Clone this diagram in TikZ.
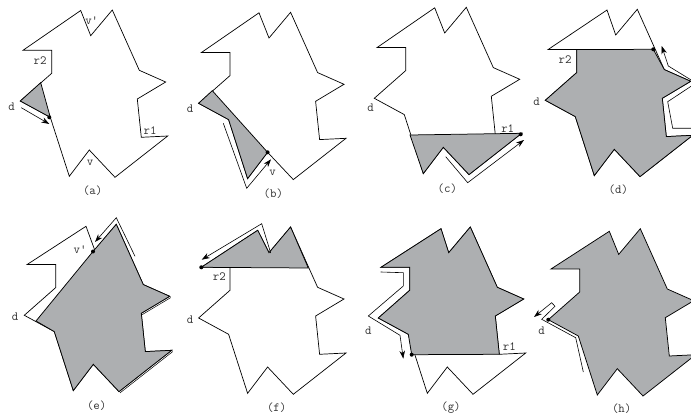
\documentclass[tikz,border=0pt]{standalone}
\usetikzlibrary{arrows.meta}
\definecolor{polygray}{HTML}{ADAFB1}
\definecolor{labgray}{HTML}{303030}
\tikzset{
  outline/.style={draw=black,line width=0.7pt,line join=miter},
  shaded/.style={fill=polygray,draw=black,line width=0.75pt,line join=miter},
  walk/.style={draw=black,line width=0.6pt,line join=miter},
  walkarrow/.style={walk,-{Stealth[length=8pt,width=5.5pt]}},
  lab/.style={font=\ttfamily\fontsize{12.5}{12.5}\selectfont,text=labgray,inner sep=0pt},
  dotmark/.style={fill=black}
}
\newcommand{\setpts}[2]{%
  \coordinate (p1) at (80.7+#1,10.5+#2);
  \coordinate (p2) at (90.7+#1,35.7+#2);
  \coordinate (p3) at (112.3+#1,10+#2);
  \coordinate (p4) at (139.3+#1,70.3+#2);
  \coordinate (p5) at (165.7+#1,82+#2);
  \coordinate (p6) at (137.3+#1,99+#2);
  \coordinate (p7) at (141.3+#1,137.3+#2);
  \coordinate (p8) at (167.7+#1,136+#2);
  \coordinate (p9) at (115+#1,177.3+#2);
  \coordinate (p10) at (89.3+#1,150+#2);
  \coordinate (p11) at (69.3+#1,176.3+#2);
  \coordinate (p12) at (50.3+#1,117.3+#2);
  \coordinate (p13) at (20.3+#1,101+#2);
  \coordinate (p14) at (51.7+#1,73.3+#2);
  \coordinate (p15) at (51.7+#1,50.3+#2);
  \coordinate (p16) at (23+#1,50.3+#2);
}
\newcommand{\fullpoly}{(p1)--(p2)--(p3)--(p4)--(p5)--(p6)--(p7)--(p8)--(p9)--(p10)--(p11)--(p12)--(p13)--(p14)--(p15)--(p16)--cycle}
\begin{document}
\begin{tikzpicture}[x=1pt,y=-1pt]
\useasboundingbox (0,0) rectangle (691,414);
\clip (0,0) rectangle (691,414);

% (a)
\setpts{0}{0}
\coordinate (ca) at (40.7,82.7);
\path[outline] \fullpoly;
\path[shaded] (p13)--(ca)--(p12)--cycle;
\fill[dotmark] (p12) ++(-1,0) circle (2pt);
\coordinate (a1) at (21.3,107.7);
\coordinate (a2) at (49.3,124);
\draw[walkarrow] (a1)--(a2);
\node[lab] (av) at (90,163.3) {v};
\node[lab] (avp) at (91.7,20.7) {v'};
\node[lab] (ar2) at (40,60.7) {r2};
\node[lab] (ar1) at (150,130.7) {r1};
\node[lab] (ad) at (11.7,106.7) {d};
\node[lab] (acap) at (92.7,190.7) {(a)};

% (b)
\setpts{178.3}{2.3}
\coordinate (cb) at (212.3,90.7);
\path[outline] \fullpoly;
\path[shaded] (p13)--(cb)--(p10)--(p11)--(p12)--cycle;
\fill[dotmark] (p10) circle (2pt);
\coordinate (b1) at (223.3,123.3);
\coordinate (b2) at (246.7,188.3);
\coordinate (b3) at (271,159.3);
\draw[walkarrow] (b1)--(b2)--(b3);
\node[lab] (bv) at (272.7,173.3) {v};
\node[lab] (bd) at (190,109) {d};
\node[lab] (bcap) at (273.3,194) {(b)};

% (c)
\setpts{354}{-2.7}
\coordinate (cc) at (410,135);
\path[outline] \fullpoly;
\path[shaded] (cc)--(p8)--(p9)--(p10)--(p11)--cycle;
\fill[dotmark] (p8) ++(-1,1) circle (2pt);
\coordinate (c1) at (445.7,156.7);
\coordinate (c2) at (467.7,182.7);
\coordinate (c3) at (524,140);
\draw[walkarrow] (c1)--(c2)--(c3);
\node[lab] (cr1) at (507.7,128.3) {r1};
\node[lab] (cd) at (370.7,107.3) {d};
\node[lab] (ccap) at (447.3,188.3) {(c)};

% (d)
\setpts{525}{-0.7}
\coordinate (p1) at (607,10);
\coordinate (cd1) at (653.3,49.3);
\path[outline] \fullpoly;
\path[shaded] (p15)--(cd1)--(p4)--(p5)--(p6)--(p7)--(p8)--(p9)--(p10)--(p11)--(p12)--(p13)--(p14)--cycle;
\draw[outline] (p16)--(p15);
\fill[dotmark] (cd1) circle (2pt);
\coordinate (d1) at (696,128.3);
\coordinate (d2) at (672.7,128.3);
\coordinate (d3) at (667.7,101.7);
\coordinate (d4) at (696,83);
\coordinate (d5) at (668.3,66);
\coordinate (d6) at (661.7,46);
\draw[walkarrow] (d1)--(d2)--(d3)--(d4)--(d5)--(d6);
\node[lab] (dr2) at (565,59.3) {r2};
\node[lab] (dd) at (536.7,101.7) {d};
\node[lab] (dcap) at (618.3,190) {(d)};

% (e)
\setpts{4}{214.3}
\coordinate (p1) at (86,226.3);
\coordinate (ce) at (36,321);
\coordinate (de) at (93,251.5);
\path[outline] \fullpoly;
\draw[outline,line width=0.5pt] ([shift={(1,1.3)}]p5)--([shift={(1,1.3)}]p6);
\draw[outline,line width=0.5pt] ([shift={(1,1.3)}]p8)--([shift={(1,1.3)}]p9);
\path[shaded] (ce)--(de)--(p3)--(p4)--(p5)--(p6)--(p7)--(p8)--(p9)--(p10)--(p11)--(p12)--cycle;
\fill[dotmark] (de) circle (2pt);
\coordinate (e1) at (135,256.3);
\coordinate (e2) at (116.3,217.7);
\coordinate (e3) at (95,242);
\draw[walkarrow] (e1)--(e2)--(e3);
\node[lab] (evp) at (80,249.7) {v'};
\node[lab] (ed) at (15,317) {d};
\node[lab] (ecap) at (96.7,405.3) {(e)};

% (f)
\setpts{178.3}{217}
\coordinate (p1) at (257.7,230.3);
\coordinate (cf) at (308.3,268);
\path[outline] \fullpoly;
\path[shaded] (p16)--(p1)--(p2)--(p3)--(cf)--cycle;
\fill[dotmark] (p16) circle (2pt);
\coordinate (f1) at (270.7,253);
\coordinate (f2) at (261.7,223.7);
\coordinate (f3) at (201.7,259.7);
\draw[walkarrow] (f1)--(f2)--(f3);
\node[lab] (fr2) at (219.3,277) {r2};
\node[lab] (fd) at (190,319.3) {d};
\node[lab] (fcap) at (276.7,407.7) {(f)};

% (g)
\setpts{358}{217}
\coordinate (p1) at (441,228.7);
\coordinate (dg) at (411.7,354.7);
\path[outline] \fullpoly;
\path[shaded] (dg)--(p7)--(p6)--(p5)--(p4)--(p3)--(p2)--(p1)--(p16)--(p15)--(p14)--(p13)--(p12)--cycle;
\fill[dotmark] (dg) circle (2pt);
\coordinate (g1) at (380.7,272);
\coordinate (g2) at (403.3,272.7);
\coordinate (g3) at (403.3,286);
\coordinate (g4) at (368.3,316);
\coordinate (g5) at (400,335.3);
\coordinate (g6) at (403.3,358.7);
\draw[walkarrow] (g1)--(g2)--(g3)--(g4)--(g5)--(g6);
\node[lab] (gr1) at (509.3,347) {r1};
\node[lab] (gd) at (368.3,330.3) {d};
\node[lab] (gcap) at (451,408) {(g)};

% (h)
\setpts{528}{218.7}
\coordinate (p1) at (609.3,231.3);
\path[shaded] \fullpoly;
\fill[dotmark] (p13) circle (2pt);
\coordinate (h1) at (583.3,372);
\coordinate (h2) at (575.7,337.7);
\coordinate (h3) at (541.7,319.3);
\coordinate (h4) at (555,306.3);
\coordinate (h5) at (551.7,302.7);
\coordinate (h6) at (534,317);
\draw[walkarrow] (h1)--(h2)--(h3)--(h4)--(h5)--(h6);
\node[lab] (hd) at (541.7,330.3) {d};
\node[lab] (hcap) at (621.7,408.7) {(h)};
\end{tikzpicture}
\end{document}
